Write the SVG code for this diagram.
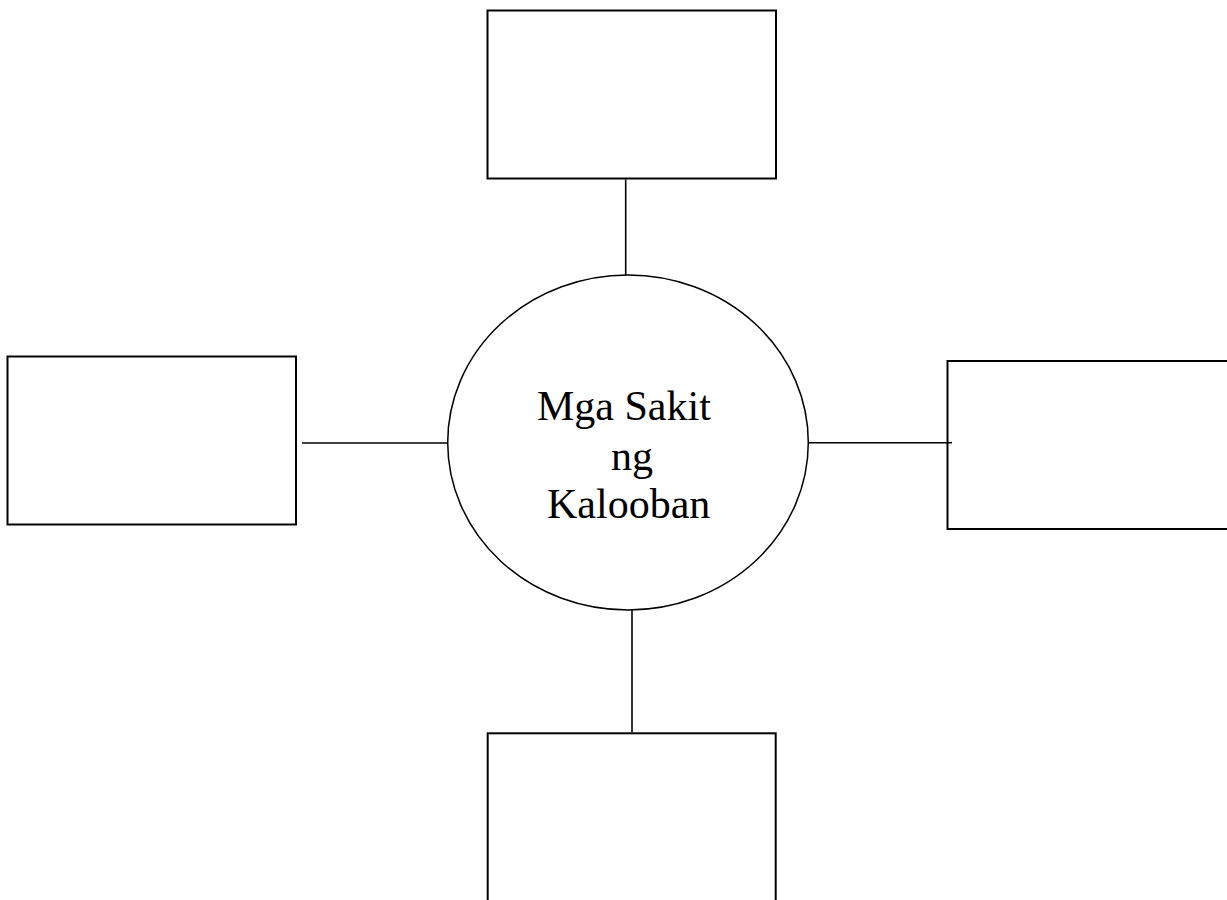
<svg xmlns="http://www.w3.org/2000/svg" width="1227" height="900" viewBox="0 0 1227 900">
<style>
.box{fill:#fff;stroke:#000;stroke-width:2}
.hub{fill:#fff;stroke:#000;stroke-width:1.5}
.conn line{stroke:#000;stroke-width:1.6}
.lbl{font-family:"Liberation Serif","Times New Roman",serif;font-size:42px;fill:#000}
</style>
<rect width="1227" height="900" fill="#fff"/>
<g id="node-top"><rect class="box" x="487.5" y="10.5" width="288.5" height="168"/></g>
<g id="node-left"><rect class="box" x="7.5" y="356.5" width="288.5" height="168"/></g>
<g id="node-right"><rect class="box" x="947.5" y="361" width="290" height="168"/></g>
<g id="node-bottom"><rect class="box" x="487.7" y="733.3" width="288" height="180"/></g>
<g id="node-center">
<ellipse class="hub" cx="628" cy="442.5" rx="180.3" ry="167.5"/>
<text class="lbl" x="537" y="420">Mga Sakit</text>
<text class="lbl" x="611" y="470">ng</text>
<text class="lbl" x="547" y="518">Kalooban</text>
</g>
<g id="connectors" class="conn">
<line x1="625.7" y1="179.5" x2="625.7" y2="275"/>
<line x1="302" y1="443" x2="447.7" y2="443"/>
<line x1="808.3" y1="442.7" x2="952" y2="442.7"/>
<line x1="632" y1="610" x2="632" y2="732.3"/>
</g>
</svg>
